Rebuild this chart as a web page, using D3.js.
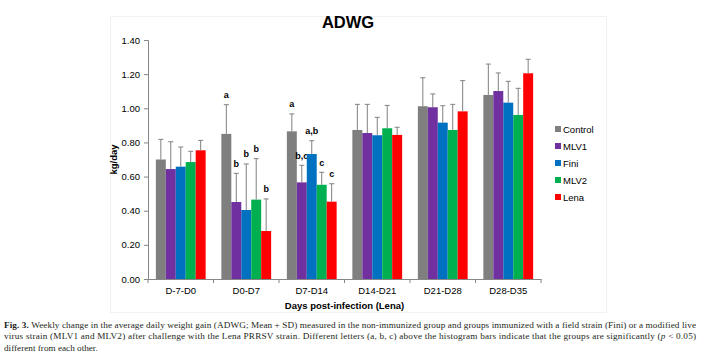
<!DOCTYPE html>
<html>
<head>
<meta charset="utf-8">
<script src="https://cdn.jsdelivr.net/npm/d3@7"></script>
<style>
  body { margin: 0; background: #fff; }
  svg { display: block; }
</style>
</head>
<body>
<div id="graph"></div>
<script>
var categories = ['D-7-D0', 'D0-D7', 'D7-D14', 'D14-D21', 'D21-D28', 'D28-D35']
var groups = ['Control', 'MLV1', 'Fini', 'MLV2', 'Lena']
var colors = ['#7f7f7f', '#7030a0', '#0070c0', '#00b050', '#ff0000']

// mean ADWG (kg/day)
var control = [0.70, 0.85, 0.865, 0.873, 1.012, 1.078]
var mlv1    = [0.644, 0.451, 0.566, 0.855, 1.006, 1.101]
var fini    = [0.658, 0.404, 0.732, 0.842, 0.916, 1.033]
var mlv2    = [0.685, 0.465, 0.552, 0.883, 0.873, 0.961]
var lena    = [0.754, 0.281, 0.453, 0.844, 0.982, 1.205]

// SD
var controlSd = [0.118, 0.171, 0.102, 0.150, 0.167, 0.181]
var mlv1Sd    = [0.160, 0.168, 0.100, 0.168, 0.078, 0.106]
var finiSd    = [0.115, 0.270, 0.078, 0.105, 0.099, 0.125]
var mlv2Sd    = [0.063, 0.240, 0.073, 0.134, 0.150, 0.156]
var lenaSd    = [0.058, 0.188, 0.105, 0.045, 0.180, 0.082]

// significance letters
var controlLet = ['', 'a', 'a', '', '', '']
var mlv1Let    = ['', 'b', 'b,c', '', '', '']
var finiLet    = ['', 'b', 'a,b', '', '', '']
var mlv2Let    = ['', 'b', 'c', '', '', '']
var lenaLet    = ['', 'b', 'c', '', '', '']

var yTicks = [0, 0.2, 0.4, 0.6, 0.8, 1.0, 1.2, 1.4]

var means = [control, mlv1, fini, mlv2, lena]
var sds = [controlSd, mlv1Sd, finiSd, mlv2Sd, lenaSd]
var letters = [controlLet, mlv1Let, finiLet, mlv2Let, lenaLet]

var w = 708
var h = 359
var plotLeft = 148, plotRight = 541, plotTop = 40, plotBottom = 279
var font = '"Liberation Sans", Arial, sans-serif'

var svg = d3.select('#graph')
	.append('svg')
	.attr('width', w)
	.attr('height', h)

// faint chart frame
svg.append('rect')
	.attr('x', 110.5).attr('y', 16.5)
	.attr('width', 496).attr('height', 296)
	.attr('fill', 'none')
	.attr('stroke', '#f2f2f2')

var x0 = d3.scaleBand()
	.domain(categories)
	.range([plotLeft, plotRight])
	.paddingInner(0.24)
	.paddingOuter(0.12)

var x1 = d3.scaleBand()
	.domain(groups)
	.range([0, x0.bandwidth()])

var y = d3.scaleLinear()
	.domain([0, 1.4])
	.range([plotBottom, plotTop])

// title
svg.append('text')
	.attr('x', 348).attr('y', 28)
	.attr('text-anchor', 'middle')
	.style('font', 'bold 16.5px ' + font)
	.attr('fill', '#000')
	.text('ADWG')

// y axis
var yAxis = d3.axisLeft(y)
	.tickValues(yTicks)
	.tickFormat(d3.format('.2f'))
	.tickSize(4)
	.tickPadding(4)

var yg = svg.append('g')
	.attr('transform', 'translate(' + plotLeft + ',0)')
	.call(yAxis)
yg.select('.domain').attr('stroke', '#868686')
yg.selectAll('.tick line').attr('stroke', '#868686')
yg.selectAll('.tick text')
	.style('font', '9.5px ' + font)
	.attr('fill', '#000')

svg.append('text')
	.attr('transform', 'translate(117,' + ((plotTop + plotBottom) / 2) + ') rotate(-90)')
	.attr('text-anchor', 'middle')
	.style('font', 'bold 9.5px ' + font)
	.attr('fill', '#000')
	.text('kg/day')

// x axis
var xAxis = d3.axisBottom(x0)
	.tickSize(0)
	.tickPadding(8)

var xg = svg.append('g')
	.attr('transform', 'translate(0,' + plotBottom + ')')
	.call(xAxis)
xg.select('.domain').attr('stroke', '#868686')
xg.selectAll('.tick text')
	.style('font', '9.5px ' + font)
	.attr('fill', '#000')

// ticks between categories
xg.selectAll('.bound')
	.data(categories.concat(['end']))
	.enter()
	.append('line')
	.attr('x1', (d, i) => plotLeft + i * x0.step())
	.attr('x2', (d, i) => plotLeft + i * x0.step())
	.attr('y1', 0).attr('y2', 4)
	.attr('stroke', '#868686')

svg.append('text')
	.attr('x', (plotLeft + plotRight) / 2).attr('y', 309)
	.attr('text-anchor', 'middle')
	.style('font', 'bold 9.5px ' + font)
	.attr('fill', '#000')
	.text('Days post-infection (Lena)')

// bars
var series = groups.map((g, gi) => categories.map((c, ci) => ({
	group: g, cat: c, color: colors[gi],
	value: means[gi][ci], sd: sds[gi][ci], label: letters[gi][ci]
})))

var gGroups = svg.selectAll('.series')
	.data(series)
	.enter()
	.append('g')
	.attr('class', 'series')

gGroups.selectAll('rect')
	.data(d => d)
	.enter()
	.append('rect')
	.attr('x', d => x0(d.cat) + x1(d.group))
	.attr('y', d => y(d.value))
	.attr('width', x1.bandwidth())
	.attr('height', d => y(0) - y(d.value))
	.attr('fill', d => d.color)

// error bars
gGroups.selectAll('.err')
	.data(d => d)
	.enter()
	.append('path')
	.attr('class', 'err')
	.attr('d', d => {
		var cx = x0(d.cat) + x1(d.group) + x1.bandwidth() / 2
		var yt = y(d.value + d.sd)
		return 'M' + cx + ',' + y(d.value) + 'V' + yt + 'M' + (cx - 2.5) + ',' + yt + 'H' + (cx + 2.5)
	})
	.attr('fill', 'none')
	.attr('stroke', '#808080')
	.attr('stroke-width', 1)

// letters
gGroups.selectAll('.lab')
	.data(d => d.filter(e => e.label))
	.enter()
	.append('text')
	.attr('class', 'lab')
	.attr('x', d => x0(d.cat) + x1(d.group) + x1.bandwidth() / 2)
	.attr('y', d => y(d.value + d.sd) - 6.5)
	.attr('text-anchor', 'middle')
	.style('font', 'bold 9px ' + font)
	.attr('fill', '#000')
	.text(d => d.label)

// legend
var legend = svg.selectAll('.legend')
	.data(groups)
	.enter()
	.append('g')
	.attr('transform', (d, i) => 'translate(555,' + (129 + i * 17) + ')')

legend.append('rect')
	.attr('x', 0).attr('y', -3)
	.attr('width', 6).attr('height', 6)
	.attr('fill', (d, i) => colors[i])

legend.append('text')
	.attr('x', 8).attr('y', 3.5)
	.style('font', '9.5px ' + font)
	.attr('fill', '#000')
	.text(d => d)

// caption
var serif = '"Liberation Serif", "Times New Roman", serif'
var cap = svg.append('g')
	.style('font', '9.2px ' + serif)
	.attr('fill', '#231f20')

var l1 = cap.append('text')
	.attr('x', 4).attr('y', 327.5)
	.attr('textLength', 692).attr('lengthAdjust', 'spacing')
l1.append('tspan').style('font-weight', 'bold').text('Fig. 3.')
l1.append('tspan').text(' Weekly change in the average daily weight gain (ADWG; Mean + SD) measured in the non-immunized group and groups immunized with a field strain (Fini) or a modified live')

var l2 = cap.append('text')
	.attr('x', 4).attr('y', 339)
	.attr('textLength', 692).attr('lengthAdjust', 'spacing')
l2.append('tspan').text('virus strain (MLV1 and MLV2) after challenge with the Lena PRRSV strain. Different letters (a, b, c) above the histogram bars indicate that the groups are significantly (')
l2.append('tspan').style('font-style', 'italic').text('p')
l2.append('tspan').text(' < 0.05)')

cap.append('text')
	.attr('x', 4).attr('y', 350.5)
	.text('different from each other.')
</script>
</body>
</html>
